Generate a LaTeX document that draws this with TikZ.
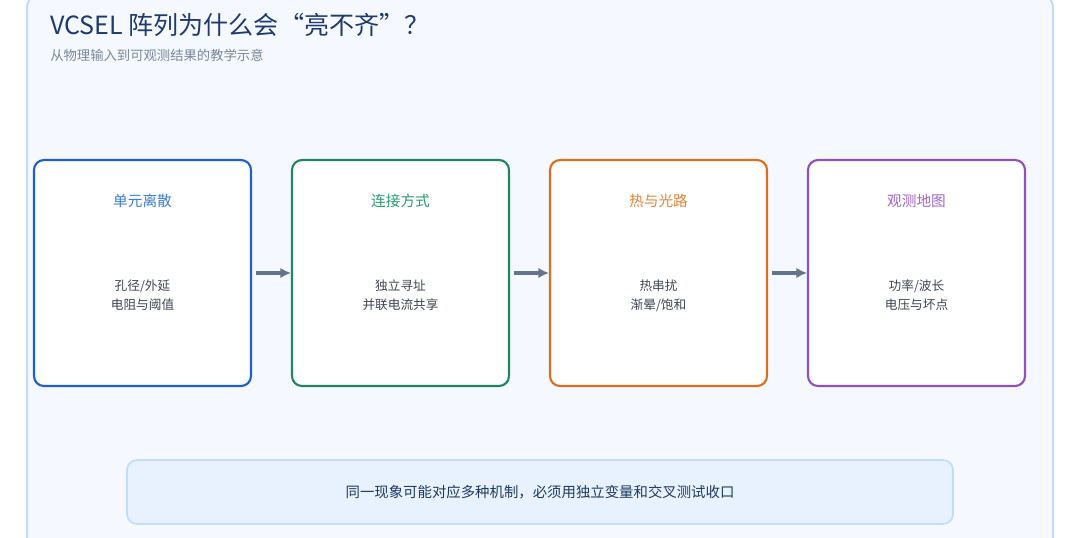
\documentclass[tikz,border=0pt]{standalone}
\usepackage{fontspec}
\setmainfont{Noto Sans CJK SC}
\usetikzlibrary{arrows.meta}
\definecolor{panelfill}{HTML}{F5F9FF}
\definecolor{panelline}{HTML}{BFDBFE}
\definecolor{titleblue}{HTML}{1E3A6E}
\definecolor{subgray}{HTML}{7A8799}
\definecolor{bodytext}{HTML}{3F4652}
\definecolor{arrowgray}{HTML}{64748B}
\definecolor{blueline}{HTML}{1D5FD0}
\definecolor{bluehead}{HTML}{3B7DDD}
\definecolor{greenline}{HTML}{1E875F}
\definecolor{greenhead}{HTML}{2E9A6E}
\definecolor{orangeline}{HTML}{DD6E1E}
\definecolor{orangehead}{HTML}{E8843A}
\definecolor{purpleline}{HTML}{9150BE}
\definecolor{purplehead}{HTML}{A066CC}
\definecolor{notefill}{HTML}{E8F2FE}
\definecolor{notetext}{HTML}{1E3A5F}

\begin{document}
\begin{tikzpicture}[x=0.75pt,y=-0.75pt,
  box/.style={draw,line width=1.6pt,fill=white,rounded corners=7.5pt,minimum width=162.75pt,minimum height=169.5pt},
  head/.style={font=\fontsize{11}{13}\selectfont},
  body/.style={font=\fontsize{9.5}{14.25}\selectfont,text=bodytext,align=center},
  link/.style={line width=2.6pt,draw=arrowgray,-{Latex[length=8pt,width=8pt]},shorten <=3pt}]
\useasboundingbox (0,0) rectangle (1080,537);
\clip (0,0) rectangle (1080,537);
\draw[fill=panelfill,draw=panelline,line width=1.5pt,rounded corners=12pt] (27,-8) rectangle (1053,560);
\node[anchor=base west,inner sep=0,text=titleblue,font=\fontsize{18.8}{21}\selectfont] (title) at (50,34) {VCSEL 阵列为什么会“亮不齐”？};
\node[anchor=base west,inner sep=0,text=subgray,font=\fontsize{10}{12}\selectfont] (sub) at (50,60) {从物理输入到可观测结果的教学示意};
\node[box,draw=blueline] (a) at (142.5,273) {};
\node[box,draw=greenline] (b) at (400.5,273) {};
\node[box,draw=orangeline] (c) at (658.5,273) {};
\node[box,draw=purpleline] (d) at (916.5,273) {};
\node[head,text=bluehead] (ah) at (142.5,201) {单元离散};
\node[head,text=greenhead] (bh) at (400.5,201) {连接方式};
\node[head,text=orangehead] (ch) at (658.5,201) {热与光路};
\node[head,text=purplehead] (dh) at (916.5,201) {观测地图};
\node[body] (ab) at (142.5,295.5) {孔径/外延\\电阻与阈值};
\node[body] (bb) at (400.5,295.5) {独立寻址\\并联电流共享};
\node[body] (cb) at (658.5,295.5) {热串扰\\渐晕/饱和};
\node[body] (db) at (916.5,295.5) {功率/波长\\电压与坏点};
\draw[link] (a) -- (b);
\draw[link] (b) -- (c);
\draw[link] (c) -- (d);
\node[draw=panelline,fill=notefill,line width=1.3pt,rounded corners=7.5pt,minimum width=619.5pt,minimum height=48pt,text=notetext,font=\fontsize{10.8}{13}\selectfont] (note) at (540,492) {同一现象可能对应多种机制，必须用独立变量和交叉测试收口};
\end{tikzpicture}
\end{document}
